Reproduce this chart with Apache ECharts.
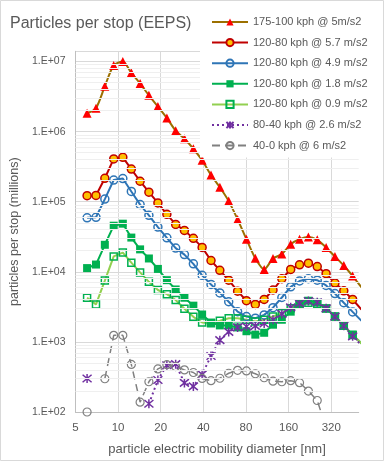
<!DOCTYPE html>
<html><head><meta charset="utf-8">
<script src="https://cdn.jsdelivr.net/npm/echarts@6/dist/echarts.min.js"></script>
<style>html,body{margin:0;padding:0;background:#fff}#c{width:384px;height:461px}</style>
</head><body><div id="c"></div><script>
// ---- data ----
const diameters = [6.04,6.98,8.06,9.31,10.8,12.4,14.3,16.5,19.1,22.1,25.5,29.4,34.0,39.2,45.3,52.3,60.4,69.8,80.6,93.1,107.5,124.1,143.3,165.5,191.1,220.7,254.8,294.3,339.8,392.4,453.2,523.3];
const seriesNames = ['175-100 kph @ 5m/s2','120-80 kph @ 5.7 m/s2','120-80 kph @ 4.9 m/s2','120-80 kph @ 1.8 m/s2','120-80 kph @ 0.9 m/s2','80-40 kph @ 2.6 m/s2','40-0 kph @ 6 m/s2'];
const v175_5 = [1.83e6,2.16e6,4.45e6,8.8e6,1.0e7,6.9e6,4.85e6,3.3e6,2.28e6,1.56e6,1.03e6,7.9e5,5.7e5,3.9e5,2.4e5,1.61e5,1.02e5,5.6e4,2.92e4,1.56e4,1.08e4,1.55e4,1.79e4,2.48e4,2.92e4,3.15e4,2.86e4,2.23e4,1.65e4,1.23e4,8.7e3,6.0e3];
const v120_57 = [1.22e5,1.23e5,2.16e5,4.08e5,4.3e5,2.92e5,1.96e5,1.37e5,9.6e4,6.6e4,4.74e4,3.9e4,3.0e4,2.23e4,1.45e4,1.05e4,7.6e3,5.3e3,3.87e3,3.43e3,4.03e3,5.5e3,7.96e3,1.08e4,1.26e4,1.33e4,1.19e4,9.4e3,6.9e3,5.35e3,4.03e3,2.9e3];
const v120_49 = [5.9e4,6.0e4,1.09e5,2.04e5,2.14e5,1.4e5,9.1e4,6.4e4,4.35e4,3.05e4,2.18e4,1.76e4,1.3e4,8.9e3,6.6e3,5.0e3,3.74e3,2.7e3,2.3e3,2.18e3,2.43e3,3.08e3,4.3e3,6.1e3,7.4e3,7.97e3,7.6e3,6.4e3,4.9e3,3.62e3,2.68e3,2.0e3];
const v120_18 = [1.13e4,1.27e4,2.43e4,4.55e4,4.86e4,3.08e4,2.09e4,1.55e4,1.1e4,7.6e3,5.6e3,4.27e3,3.29e3,2.46e3,1.89e3,1.72e3,1.72e3,1.61e3,1.42e3,1.27e3,1.35e3,1.76e3,2.07e3,2.7e3,3.36e3,3.87e3,3.62e3,3.01e3,2.3e3,1.7e3,1.27e3,950];
const v120_09 = [4.27e3,3.43e3,7.5e3,1.66e4,1.88e4,1.35e4,9.8e3,7.2e3,5.5e3,4.8e3,3.96e3,2.98e3,2.28e3,1.89e3,1.85e3,2.0e3,2.18e3,2.18e3,2.07e3,1.96e3,2.07e3,2.3e3,2.56e3,3.01e3,3.48e3,3.62e3,3.45e3,3.0e3,2.3e3,1.7e3,1.25e3,950];
const v80_26 = [301,null,null,null,null,null,null,131,286,465,481,260,232,345,630,1060,1390,1610,1660,1690,1830,2070,2510,3110,3540,3830,3680,3010,2300,1700,1200,900];
const v40_6 = [100,null,298,1240,1240,477,138,270,412,474,445,399,366,301,280,303,357,393,386,351,308,275,270,280,262,199,146,60,null,null,null,null];
const xTickLabels = ['5','10','20','40','80','160','320'];
const yTickLabels = ['1.E+02','1.E+03','1.E+04','1.E+05','1.E+06','1.E+07'];

// ---- chart ----
const FONT = '"Liberation Sans", Arial, sans-serif';
const TXT = '#595959';
const pairs = vals => diameters.map((d, i) => [d, vals[i]]);
const minorValues = [];
for (let e = 2; e <= 6; e++) for (let k = 2; k <= 9; k++) minorValues.push(k * Math.pow(10, e));

const star = 'path://M0,0L10,10M10,0L0,10M5,-1L5,11';
const styles = [
  {line:'#9C7000', width:2, symbol:'triangle', size:9, fill:'#FF0000', border:'#FF0000', bw:0, smooth:0.25},
  {line:'#C00000', width:2, symbol:'circle', size:8, fill:'#FFC000', border:'#C00000', bw:1.5},
  {line:'#2E75B6', width:2, symbol:'circle', size:8, fill:'rgba(0,0,0,0)', border:'#2E75B6', bw:1.5},
  {line:'#00B050', width:2, symbol:'rect', size:8, fill:'#00B050', border:'#00B050', bw:0},
  {line:'#92D050', width:2, symbol:'rect', size:7, fill:'rgba(0,0,0,0)', border:'#00B050', bw:1.5},
  {line:'#7030A0', width:2, symbol:star, size:9, fill:'#7030A0', border:'#7030A0', bw:1.5, type:[2,3]},
  {line:'#808080', width:1.5, symbol:'circle', size:8, fill:'rgba(0,0,0,0)', border:'#808080', bw:1.2, type:[8,5]}
];
const valueSets = [v175_5, v120_57, v120_49, v120_18, v120_09, v80_26, v40_6];

const series = valueSets.map((vals, i) => {
  const s = styles[i];
  return {
    name: seriesNames[i], type: 'line', xAxisIndex: 0, yAxisIndex: 0,
    data: pairs(vals), connectNulls: false, clip: true, z: 3,
    smooth: s.smooth || false,
    symbol: s.symbol, symbolSize: s.size, showAllSymbol: true,
    lineStyle: {color: s.line, width: s.width, type: s.type || 'solid'},
    itemStyle: {color: s.fill, borderColor: s.border, borderWidth: s.bw},
    emphasis: {disabled: true}
  };
});
series.unshift({
  name: 'minor', type: 'line', xAxisIndex: 0, yAxisIndex: 0, data: [], z: 1, silent: true,
  markLine: {silent: true, symbol: ['none','none'], label: {show: false},
    lineStyle: {color: '#efefef', width: 1, type: 'solid'},
    emphasis: {disabled: true},
    data: minorValues.map(v => ({yAxis: v}))}
});

const chart = echarts.init(document.getElementById('c'));
chart.setOption({
  animation: false,
  backgroundColor: '#fff',
  textStyle: {fontFamily: FONT},
  title: {text: 'Particles per stop (EEPS)', left: 5, top: 11,
    textStyle: {fontFamily: FONT, fontSize: 16, fontWeight: 'normal', color: TXT}},
  legend: {
    data: seriesNames, orient: 'vertical', left: 200, top: 10,
    padding: [5, 5, 5, 11], itemGap: 6.6, itemWidth: 36, itemHeight: 9,
    backgroundColor: '#fff', z: 10,
    textStyle: {fontFamily: FONT, fontSize: 11, color: TXT, lineHeight: 14}
  },
  grid: {left: 71, right: 25.3, top: 51.3, bottom: 44.3, containLabel: false},
  xAxis: [
    {type: 'log', logBase: 2, min: 5, max: 500, position: 'top', show: false},
    {type: 'log', logBase: 2, min: 1, max: 100, position: 'bottom',
      name: 'particle electric mobility diameter [nm]', nameLocation: 'middle', nameGap: 31,
      nameTextStyle: {fontFamily: FONT, fontSize: 13, color: TXT},
      axisLine: {show: true, lineStyle: {color: '#bfbfbf', width: 1}},
      axisTick: {show: false},
      axisLabel: {margin: 10, fontFamily: FONT, fontSize: 11.5, color: TXT,
        formatter: v => { const e = Math.log2(v), r = Math.round(e); return Math.abs(e - r) < 1e-6 ? (xTickLabels[r] || '') : ''; }},
      splitLine: {show: true, showMaxLine: false, lineStyle: {color: '#d9d9d9', width: 1}}
    }
  ],
  yAxis: [{
    type: 'log', logBase: 10, min: 100, max: 1.4e7,
    name: 'particles per stop (millions)', nameLocation: 'middle', nameGap: 43,
    nameTextStyle: {fontFamily: FONT, fontSize: 12.5, color: TXT},
    axisLine: {show: true, lineStyle: {color: '#bfbfbf', width: 1}},
    axisTick: {show: false},
    axisLabel: {margin: 10, fontFamily: FONT, fontSize: 10.5, color: TXT,
      formatter: v => { const e = Math.log10(v), r = Math.round(e); return Math.abs(e - r) < 1e-6 ? (yTickLabels[r - 2] || '') : ''; }},
    splitLine: {show: true, lineStyle: {color: '#d9d9d9', width: 1}}
  }],
  graphic: [{type: 'rect', shape: {x: 0.5, y: 0.5, width: 383, height: 460}, silent: true, z: 100,
    style: {fill: 'none', stroke: '#d9d9d9', lineWidth: 1}}],
  series: series
});
</script></body></html>
